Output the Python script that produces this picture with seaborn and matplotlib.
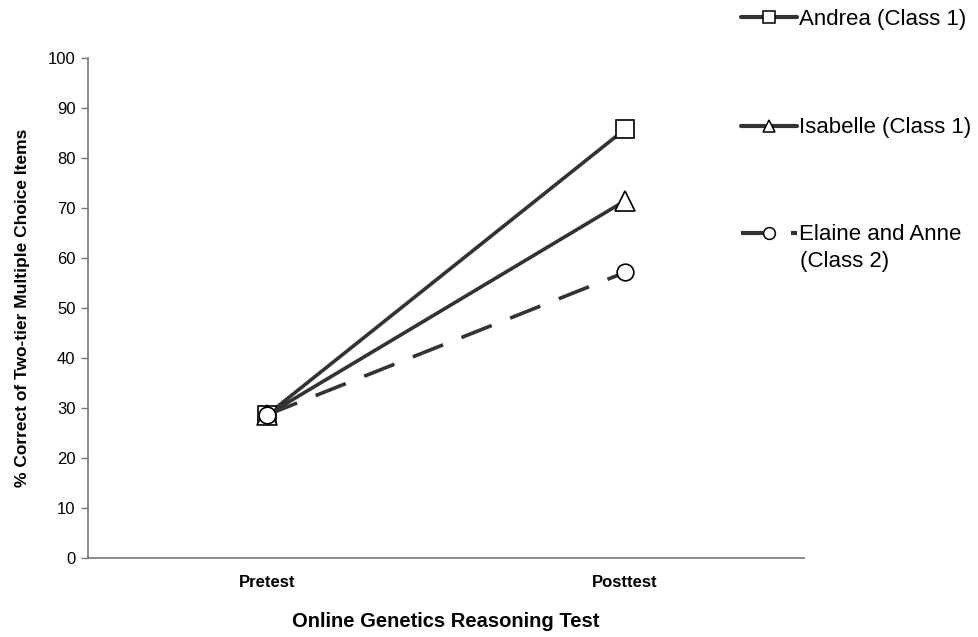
import matplotlib
matplotlib.use("Agg")
import matplotlib.pyplot as plt
import seaborn as sns
import pandas as pd
from matplotlib.lines import Line2D

# ---- data ----
tests = ["Pretest", "Posttest"]
andrea = [28.6, 85.7]
isabelle = [28.6, 71.4]
elaine_anne = [28.6, 57.1]
series_names = ["Andrea (Class 1)", "Isabelle (Class 1)", "Elaine and Anne"]
yticks = [0, 10, 20, 30, 40, 50, 60, 70, 80, 90, 100]

sns.set_theme(style="white")
plt.rcParams["font.family"] = ["Liberation Sans", "DejaVu Sans"]
for k in ["text.color", "axes.labelcolor", "xtick.color", "ytick.color"]:
    plt.rcParams[k] = "black"

fig = plt.figure(figsize=(9.79, 6.37), dpi=100)
ax = fig.add_axes([0.0899, 0.124, 0.731, 0.785])

line_color = "#333333"
styles = [
    dict(values=andrea, marker="s", ms=13.5, ls="-"),
    dict(values=isabelle, marker="^", ms=14, ls="-"),
    dict(values=elaine_anne, marker="o", ms=12, ls=(0, (9, 5.5))),
]

for name, st in zip(series_names, styles):
    df = pd.DataFrame({"test": tests, "value": st["values"]})
    sns.lineplot(data=df, x="test", y="value", ax=ax, color=line_color,
                 linewidth=2.6, linestyle=st["ls"], marker=st["marker"],
                 markersize=st["ms"], markerfacecolor="white",
                 markeredgecolor="black", markeredgewidth=1.2, legend=False)

ax.set_xlim(-0.5, 1.5)
ax.set_ylim(0, 100)
ax.set_yticks(yticks)
ax.tick_params(axis="y", labelsize=12, length=5, width=1, color="#777777",
               direction="out", left=True, pad=4)
ax.tick_params(axis="x", labelsize=12, length=0, pad=12)
for lbl in ax.get_xticklabels():
    lbl.set_fontweight("bold")
for side in ["top", "right"]:
    ax.spines[side].set_visible(False)
for side in ["left", "bottom"]:
    ax.spines[side].set_color("#777777")
    ax.spines[side].set_linewidth(1.2)

ax.set_xlabel("Online Genetics Reasoning Test", fontsize=14.5, fontweight="bold",
              labelpad=16)
ax.set_ylabel("% Correct of Two-tier Multiple Choice Items", fontsize=12.5,
              fontweight="bold", labelpad=13)

# ---- legend (three single-entry legends) ----
leg_y = [1 - 19 / 637, 1 - 128 / 637, 1 - 235 / 637]
for lab, st, y in zip(series_names, styles, leg_y):
    h = Line2D([], [], color=line_color, linewidth=3,
               linestyle="-" if st["ls"] == "-" else (0, (5.3, 6.7)),
               marker=st["marker"], markersize=8.5 if st["marker"] != "^" else 9,
               markerfacecolor="white", markeredgecolor="black", markeredgewidth=1.1)
    fig.legend(handles=[h], labels=[lab], loc="center left",
               bbox_to_anchor=(741 / 979, y), frameon=False, fontsize=16,
               handlelength=2.5, handletextpad=0.12, borderpad=0,
               borderaxespad=0)
fig.text(800 / 979, 1 - 261 / 637, "(Class 2)", fontsize=16, va="center", ha="left")

fig.savefig("out.png", dpi=100)
